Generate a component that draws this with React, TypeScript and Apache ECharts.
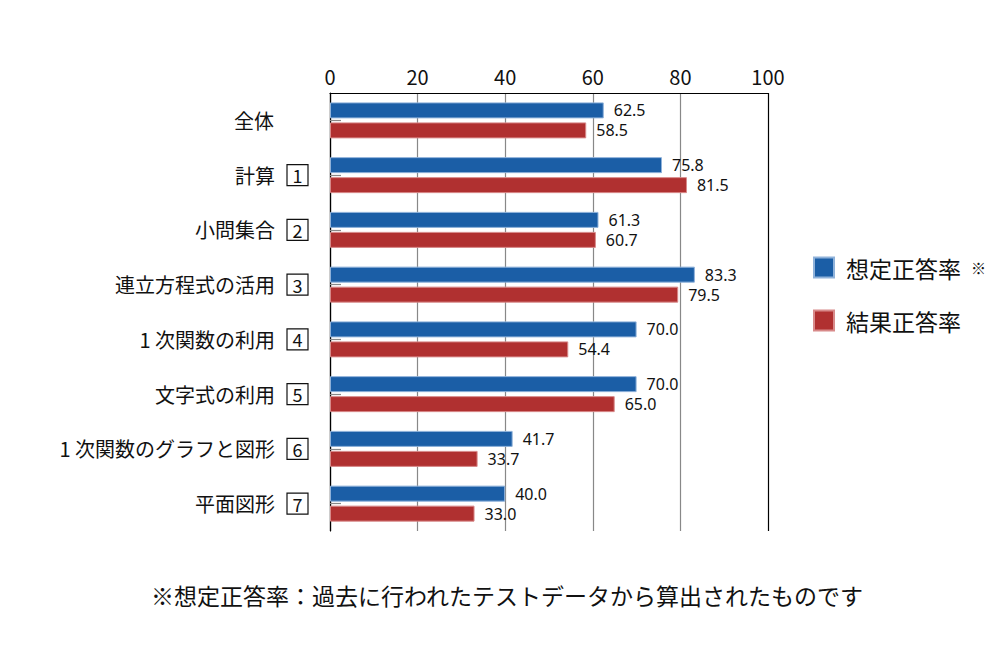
import React, { useEffect, useRef } from "react";
import * as echarts from "echarts";

const categories = ["全体", "計算", "小問集合", "連立方程式の活用", "1 次関数の利用", "文字式の利用", "1 次関数のグラフと図形", "平面図形"];
const boxNumbers = ["", "1", "2", "3", "4", "5", "6", "7"];
const expectedRate = [62.5, 75.8, 61.3, 83.3, 70.0, 70.0, 41.7, 40.0];
const resultRate = [58.5, 81.5, 60.7, 79.5, 54.4, 65.0, 33.7, 33.0];
const xTicks = [0, 20, 40, 60, 80, 100];
const seriesNames = ["想定正答率", "結果正答率"];
const footnote = "※想定正答率：過去に行われたテストデータから算出されたものです";

const FONT = "'Noto Sans CJK JP', 'Noto Sans', sans-serif";
const NUMFONT = "'Noto Sans', 'Open Sans', sans-serif";

export default function App() {
  const ref = useRef<HTMLDivElement>(null);
  useEffect(() => {
    document.body.style.margin = "0";
    const chart = echarts.init(ref.current!, null, { renderer: "svg" });
    const valueLabel = {
      show: true,
      position: "right",
      distance: 10,
      fontSize: 16,
      lineHeight: 16,
      color: "#111",
      fontFamily: NUMFONT,
      formatter: (p: any) => Number(p.value).toFixed(1),
    };
    const option: any = {
      animation: false,
      backgroundColor: "#ffffff",
      textStyle: { fontFamily: FONT },
      grid: { left: 330, right: 232, top: 93, bottom: 129, containLabel: false },
      xAxis: {
        type: "value",
        position: "top",
        min: xTicks[0],
        max: xTicks[xTicks.length - 1],
        interval: 20,
        axisLine: { show: true, lineStyle: { color: "#000", width: 1.2 } },
        axisTick: { show: false },
        axisLabel: { fontSize: 20, color: "#111", margin: 7, fontFamily: FONT },
        splitLine: {
          show: true,
          lineStyle: { color: ["#000", "#888", "#888", "#888", "#888", "#000"], width: 1.2 },
        },
      },
      yAxis: {
        type: "category",
        data: categories,
        inverse: true,
        axisLine: { show: true, lineStyle: { color: "#000", width: 1.2 } },
        axisTick: { show: true, inside: true, alignWithLabel: true, length: 11, lineStyle: { color: "#888", width: 1.2 } },
        axisLabel: {
          margin: 22,
          color: "#111",
          formatter: (v: string, i: number) => {
            const n = boxNumbers[i];
            return n ? `{name|${v}}{box|${n}}` : `{name|${v}}{nobox|}`;
          },
          rich: {
            name: { fontSize: 20, color: "#111", fontFamily: FONT, padding: [0, 12, 0, 0] },
            box: {
              fontSize: 18,
              color: "#111",
              fontFamily: FONT,
              width: 21,
              height: 21,
              lineHeight: 21,
              align: "center",
              borderColor: "#111",
              borderWidth: 1.2,
            },
            nobox: { width: 22, height: 21 },
          },
        },
      },
      legend: {
        orient: "vertical",
        left: 808,
        top: 251,
        itemWidth: 20,
        itemHeight: 20,
        itemGap: 30,
        icon: "rect",
        data: seriesNames,
        formatter: (name: string) => (name === seriesNames[0] ? `{t|${name}}{s|※}` : `{t|${name}}`),
        textStyle: {
          padding: [0, 0, 0, 7],
          rich: {
            t: { fontSize: 23, lineHeight: 24, color: "#111", fontFamily: FONT },
            s: { fontSize: 15, lineHeight: 24, color: "#111", fontFamily: FONT, padding: [0, 0, 0, 10] },
          },
        },
      },
      series: [
        {
          name: seriesNames[0],
          type: "bar",
          data: expectedRate,
          barWidth: 16,
          barGap: "25%",
          itemStyle: { color: "#1b5ea6", borderColor: "#8fb2da", borderWidth: 1 },
          label: valueLabel,
        },
        {
          name: seriesNames[1],
          type: "bar",
          data: resultRate,
          barWidth: 16,
          barGap: "25%",
          itemStyle: { color: "#b03030", borderColor: "#d88a8a", borderWidth: 1 },
          label: valueLabel,
        },
      ],
      graphic: [
        {
          type: "text",
          x: 507,
          y: 595,
          style: {
            text: footnote,
            fontSize: 23,
            fill: "#111",
            fontFamily: FONT,
            textAlign: "center",
            textVerticalAlign: "middle",
          },
        },
      ],
    };
    chart.setOption(option);
    return () => chart.dispose();
  }, []);
  return <div ref={ref} style={{ width: 1000, height: 660 }} />;
}
